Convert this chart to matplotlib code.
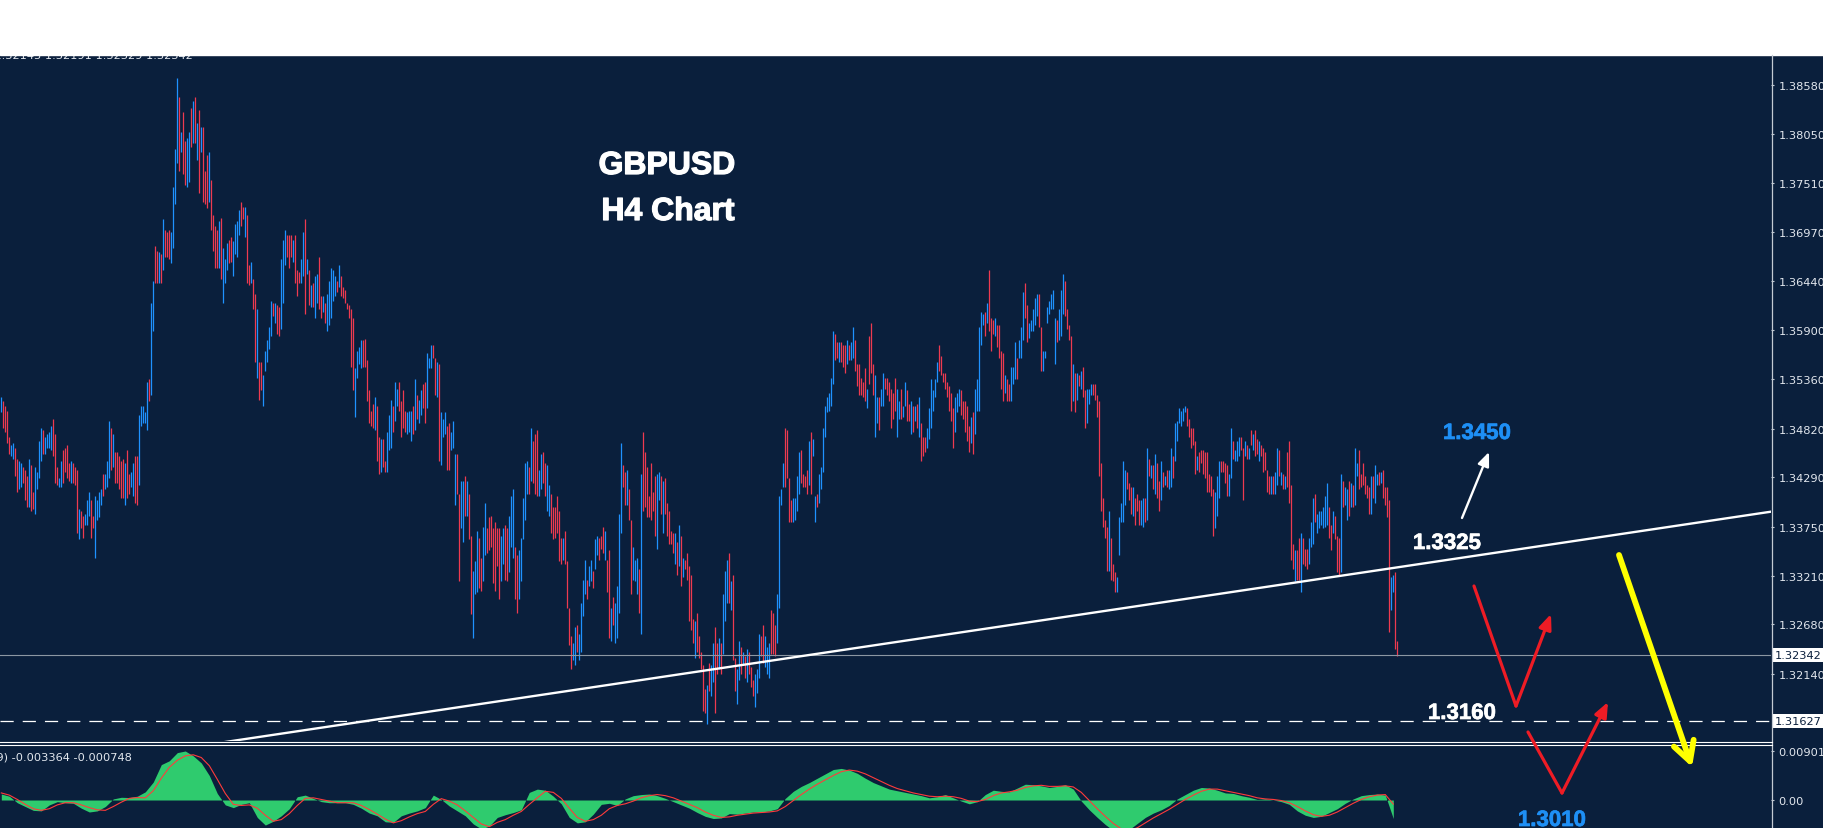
import numpy as np
import matplotlib
matplotlib.use("Agg")
import matplotlib.pyplot as plt
import matplotlib.transforms as mtransforms
import matplotlib.patheffects as pe
from matplotlib.patches import Rectangle

# GBPUSD H4 bars: high / low in pips above 1.30000, direction 1 = up bar (blue), 0 = down bar (red)
bar_high = [
    517,512,507,502,473,464,466,461,449,447,445,440,437,430,449,442,413,440,435,469,
    483,481,473,476,478,485,493,476,440,428,447,459,461,464,445,447,445,440,437,394,
    392,387,389,404,413,404,387,409,404,413,416,433,433,447,490,483,476,457,457,452,
    447,449,445,459,433,435,445,452,452,497,507,507,500,533,536,620,644,682,677,675,
    673,711,699,697,699,697,747,788,866,845,807,829,797,800,807,833,841,845,817,831,
    812,812,764,781,785,754,716,704,699,709,713,680,668,685,689,692,687,706,709,721,
    730,725,725,716,661,665,646,629,613,555,555,541,567,579,593,622,620,620,617,615,
    668,689,699,694,694,694,689,694,656,653,668,697,711,668,656,639,641,649,651,670,
    627,627,620,629,644,658,656,649,644,661,649,637,634,620,617,613,603,548,567,572,
    579,579,580,557,524,502,509,517,507,473,471,471,447,478,497,514,507,533,526,533,
    512,524,502,500,502,502,507,536,519,514,524,531,533,565,560,574,574,560,555,553,
    500,493,500,485,488,478,490,454,454,411,425,425,430,425,411,365,327,337,370,363,
    341,375,401,373,385,387,373,380,373,373,365,373,377,373,387,409,416,353,344,349,
    363,406,445,447,440,483,469,476,481,437,454,457,445,442,421,411,397,397,409,392,
    363,363,370,337,286,255,248,265,267,257,291,317,339,317,332,339,327,361,365,363,
    365,375,370,339,349,286,298,291,310,389,466,442,435,437,416,382,353,339,341,329,
    433,478,457,440,409,445,413,430,433,435,430,425,428,401,392,370,368,368,358,377,
    365,341,339,346,332,322,274,272,281,255,238,224,197,202,226,224,248,265,248,253,
    248,301,327,339,346,315,322,231,219,250,243,238,233,241,238,221,207,214,219,257,
    255,267,255,243,248,284,281,267,301,409,416,445,483,481,428,404,406,406,430,457,
    459,433,430,437,469,478,471,409,411,433,440,483,507,517,521,538,589,586,577,577,
    577,574,574,579,574,577,593,579,553,553,538,533,548,526,584,598,553,541,517,517,
    526,543,538,538,533,526,521,538,526,512,526,507,533,524,509,512,507,507,509,517,
    488,473,473,483,505,536,524,536,555,574,562,543,543,533,529,521,505,517,521,526,
    524,512,512,507,485,495,500,526,536,593,610,608,610,620,656,603,601,603,596,596,
    567,565,541,536,531,550,550,577,560,579,593,632,641,617,598,601,613,625,629,629,
    593,567,567,615,622,629,634,603,601,613,634,651,644,613,596,584,553,543,543,541,
    545,550,524,526,526,531,531,531,519,512,445,406,382,375,392,363,334,325,320,385,
    401,447,437,435,423,418,418,406,411,404,404,406,406,461,449,442,442,454,445,425,
    447,435,430,437,437,461,452,488,490,505,502,505,507,505,493,483,483,469,452,457,
    459,459,457,457,433,430,416,413,430,447,447,447,445,442,433,483,469,459,469,473,
    473,461,469,464,461,481,476,481,471,469,464,461,457,437,430,430,430,435,461,459,
    435,433,430,457,469,421,356,349,349,363,368,363,351,351,363,380,406,411,389,392,
    392,397,409,423,397,377,392,387,365,363,433,425,418,416,425,423,421,461,445,459,
    433,445,430,421,418,430,430,442,433,435,435,437,418,418,404,320,322,325,250,
]
bar_low = [
    500,483,478,466,454,452,449,430,413,416,418,423,404,397,397,392,394,389,416,428,
    447,454,454,461,461,459,452,423,421,418,418,423,435,428,425,423,423,421,368,361,
    373,363,377,377,387,363,373,341,382,385,399,409,416,418,428,437,440,423,423,416,
    406,406,399,406,411,418,409,401,399,421,485,488,488,481,512,519,589,641,641,641,
    641,656,670,670,668,663,680,728,773,764,785,761,749,747,752,790,795,795,776,740,
    785,730,728,723,730,699,677,658,658,658,646,620,641,656,663,665,649,673,670,694,
    704,711,692,641,639,641,613,555,538,514,524,507,545,555,569,584,605,598,586,584,
    591,620,661,670,658,670,665,641,627,641,641,649,608,651,617,615,615,603,620,613,
    603,610,598,589,596,603,622,627,632,637,627,625,620,613,603,550,524,495,538,553,
    548,550,550,512,488,485,483,481,447,433,435,440,435,435,459,461,478,490,507,502,
    473,483,478,476,478,469,476,481,493,488,497,505,488,505,548,548,560,519,517,447,
    442,473,476,437,437,459,461,399,411,315,373,358,387,387,361,279,253,301,303,308,
    305,315,344,346,349,353,313,305,332,296,315,334,317,315,325,353,341,296,281,296,
    315,361,382,411,411,425,423,411,409,409,416,423,409,392,387,368,361,363,368,337,
    334,339,334,286,245,219,229,224,238,229,238,277,301,296,310,315,308,329,344,339,
    351,346,339,303,253,250,267,248,253,281,368,418,399,399,382,301,317,315,301,281,
    257,392,397,385,385,382,392,365,351,404,389,368,389,365,356,356,346,334,322,332,
    310,320,329,317,272,262,248,231,238,231,219,173,171,159,195,190,205,171,214,219,
    214,236,272,291,291,284,229,195,181,207,214,224,209,205,214,200,190,178,193,209,
    233,226,221,214,209,236,236,233,248,286,399,418,418,428,380,380,380,382,392,411,
    423,418,418,411,421,411,452,380,397,401,416,435,473,500,502,507,531,557,560,555,
    555,550,543,553,557,557,560,545,529,519,519,517,512,505,531,543,519,473,488,481,
    507,507,526,519,512,483,493,502,473,493,493,495,507,490,490,476,478,490,483,473,
    447,452,457,461,471,483,502,517,533,545,541,533,526,517,502,490,461,478,500,507,
    497,493,478,469,457,466,454,476,502,502,574,596,584,598,589,567,586,584,572,560,
    526,512,521,512,512,512,531,536,536,560,560,579,603,577,581,589,589,596,605,593,
    545,545,560,598,608,613,613,553,577,579,584,608,605,591,579,502,512,500,514,529,
    526,517,483,488,509,519,519,514,495,430,392,375,363,327,327,317,315,303,303,344,
    380,380,399,416,404,389,387,377,392,377,377,375,380,382,430,428,416,411,406,392,
    404,418,421,418,416,418,428,447,469,488,485,490,500,485,473,461,464,433,437,435,
    445,433,428,413,413,409,365,373,387,406,435,435,423,409,409,428,449,447,447,452,
    459,404,452,449,449,464,459,452,454,447,452,435,437,413,411,411,411,411,421,430,
    421,416,416,418,401,339,329,315,317,317,303,334,332,329,334,353,356,380,368,373,
    377,373,375,377,363,349,368,361,325,322,325,397,399,382,387,397,397,399,430,416,
    418,421,411,406,389,389,406,401,421,421,423,406,399,385,260,284,303,241,233,
]
bar_up = (
    "10000110011000100111" "10111100011000010001" "00111001111011101000"
    "00100110011111011001" "01000111101001101010" "10001000010111001111"
    "00100100100111110100" "11100010001101010110" "01011111010000000111"
    "10000001001001110110" "00011101011001110010" "11100111001101001110"
    "01100000001100111001" "11110100011001100000" "01000011011110110110"
    "00100101111001001110" "10000000110100000101" "01000001000001011001"
    "01110100110101000111" "00111000111100001111" "00001011011111111001"
    "00010110000001000110" "11000000110110010101" "00011111100000000111"
    "00000101111101000100" "00100111011100111110" "01111111011100001010"
    "10011100000000100011" "11100010001101010100" "10101101111110000010"
    "00000001110000110111" "00101010010000010110" "10100001001000111011"
    "11110010001011010110" "0000010110100001100"
)

price_ticks = [1.38580, 1.38050, 1.37510, 1.36970, 1.36440, 1.35900, 1.35360,
               1.34820, 1.34290, 1.33750, 1.33210, 1.32680, 1.32140]
bid_price = 1.32342
level_price = 1.31627
trend_bars = [100, 885]
trend_prices = [1.31355, 1.33914]

# MACD(12,26,9), one reading every 4 bars, units of 0.001
macd_step = 4
macd_main = [
    1.1,0.7,-0.5,-1.2,-1.9,-2.0,-0.9,-0.3,-0.5,-0.6,
    -1.5,-2.2,-2.0,-1.2,0.2,0.5,0.45,0.7,1.5,3.3,
    6.5,7.2,8.7,9.0,8.1,6.8,4.5,1.2,-0.9,-1.4,
    -0.8,-0.5,-3.2,-4.6,-3.9,-2.9,-1.6,0.6,0.9,0.3,
    -0.3,-0.5,-0.5,-0.5,-0.8,-1.5,-2.4,-2.9,-4.0,-4.1,
    -2.9,-2.4,-2.0,-1.4,0.9,0.1,-1.1,-2.0,-2.9,-4.4,
    -5.3,-4.8,-3.2,-2.7,-2.3,-1.8,1.4,2.0,1.8,0.7,
    -0.7,-3.2,-4.2,-4.0,-2.6,
    -0.8,-0.6,-1.0,0.2,0.8,1.0,1.1,0.8,0.3,-0.3,
    -0.9,-1.5,-2.3,-3.0,-3.4,-3.3,-2.5,-2.6,-2.4,-2.2,
    -2.2,-2.0,-1.6,0.3,1.6,2.5,3.2,4.0,4.8,5.6,
    5.8,5.5,4.9,4.0,3.2,2.6,2.0,1.7,1.4,1.1,
    0.8,0.4,0.6,1.0,0.4,-0.2,-0.7,-0.3,1.0,1.8,
    1.6,1.5,2.2,2.9,2.8,2.6,2.3,2.5,2.8,2.0,
    -0.2,-1.8,-3.2,-4.5,-5.6,-6.2,-5.4,-4.3,-3.2,-2.4,
    -1.8,-1.0,0.2,1.0,1.8,2.3,2.2,1.8,1.3,1.2,
    0.8,0.5,0.1,0.2,0.0,-0.3,-0.8,-2.0,-2.8,-3.2,
    -3.0,-2.3,-1.6,-0.6,0.2,0.8,1.0,1.1,0.9,-3.4,
]
macd_signal = [
    1.3,0.9,0.1,-0.8,-1.6,-1.9,-1.6,-0.9,-0.5,-0.5,
    -0.9,-1.4,-1.8,-1.9,-1.2,-0.4,0.3,0.45,0.4,1.7,
    4.0,6.0,7.3,8.1,8.3,7.8,6.3,3.8,1.2,-0.8,
    -1.0,-0.9,-1.5,-2.8,-3.9,-3.6,-2.5,-1.0,0.3,0.4,
    0.1,-0.2,-0.5,-0.5,-0.5,-1.0,-1.75,-2.6,-3.5,-4.2,
    -3.8,-3.1,-2.5,-2.1,-0.8,0.25,-0.2,-0.9,-2.0,-3.2,
    -4.4,-4.9,-4.1,-3.6,-2.8,-2.1,-0.8,0.4,1.6,1.4,
    0.3,-1.5,-3.2,-3.9,-3.6,
    -2.8,-1.6,-1.0,-0.7,-0.2,0.4,0.8,1.0,0.8,0.4,
    -0.2,-0.8,-1.4,-2.2,-2.8,-3.2,-3.1,-2.8,-2.6,-2.4,
    -2.3,-2.2,-2.0,-1.2,-0.1,1.0,2.0,2.9,3.7,4.5,
    5.2,5.5,5.3,4.8,4.1,3.4,2.7,2.1,1.7,1.3,
    1.0,0.7,0.6,0.7,0.6,0.3,-0.2,-0.3,0.1,0.8,
    1.3,1.5,1.8,2.3,2.6,2.7,2.5,2.5,2.6,2.4,
    1.4,-0.1,-1.6,-3.0,-4.3,-5.3,-5.6,-5.1,-4.2,-3.3,
    -2.5,-1.7,-0.8,0.1,0.9,1.6,2.0,2.0,1.7,1.4,
    1.1,0.8,0.4,0.2,0.1,-0.1,-0.5,-1.2,-2.0,-2.7,
    -3.0,-2.8,-2.2,-1.4,-0.6,0.1,0.6,0.9,1.0,-0.75,
]
macd_ticks = [0.009011, 0.0]
macd_tick_labels = ["0.009011", "0.00"]

header_text = "GBPUSD,H4  1.32145 1.32191 1.32329 1.32342"
macd_text = "MACD(12,26,9) -0.003364 -0.000748"

assert len(bar_high) == len(bar_low) == len(bar_up)
assert len(macd_main) == len(macd_signal)

BG = "#0a1f3c"
BLUE = "#1f92ff"
RED = "#ee3a50"
GREEN = "#2fcb6e"
AXIS = "#c3cad3"
LABEL = "#e2e7ee"
plt.rcParams["lines.scale_dashes"] = False

W, H = 1823, 829
fig = plt.figure(figsize=(W / 100, H / 100), dpi=100, facecolor=BG)

# price panel: pixels x 0..1771, y 55..742
ax = fig.add_axes([0, (H - 742) / H, 1771 / W, (742 - 55) / H])
ax.set_facecolor(BG)
n = len(bar_high)
x = np.arange(n)
hi = 1.3 + np.array(bar_high) / 1e4
lo = 1.3 + np.array(bar_low) / 1e4
cols = [BLUE if c == "1" else RED for c in bar_up]
ax.vlines(x, lo, hi, colors=cols, linewidth=0.9)
ax.axhline(bid_price, color="#8c97a3", lw=0.8)
ax.axhline(level_price, color="white", lw=0.9, dashes=(9.5, 6.5))
ax.plot(trend_bars, trend_prices, color="white", lw=1.7, solid_capstyle="butt")
ax.set_xlim(-0.65, 884.85)
ax.set_ylim(1.31405, 1.38920)
for s in ax.spines.values():
    s.set_visible(False)
ax.set_xticks([])
ax.yaxis.tick_right()
ax.set_yticks(price_ticks)
ax.set_yticklabels([f"{v:.5f}" for v in price_ticks])
ax.tick_params(axis="y", length=2.5, width=0.8, color=AXIS, labelcolor=LABEL,
               labelsize=8.2, pad=3)

tr = mtransforms.blended_transform_factory(ax.transAxes, ax.transData)
for p in (bid_price, level_price):
    ax.text(1 + 4 / 1771, p, f"{p:.5f}", transform=tr, ha="left", va="center",
            fontsize=8.2, color=BG, clip_on=False,
            bbox=dict(boxstyle="square,pad=0.18", fc="white", ec="none"))

# MACD panel: pixels y 746..829 (cut at the bottom)
ax2 = fig.add_axes([0, 0, 1771 / W, (H - 746) / H])
ax2.set_facecolor(BG)
mx = np.arange(len(macd_main)) * macd_step
ax2.fill_between(mx, 0, np.array(macd_main) * 1e-3, color=GREEN, lw=0)
ax2.plot(mx, np.array(macd_signal) * 1e-3, color="#ff3b3b", lw=0.8)
ax2.set_xlim(-0.65, 884.85)
ax2.set_ylim(-0.00514, 0.01010)
for s in ax2.spines.values():
    s.set_visible(False)
ax2.set_xticks([])
ax2.yaxis.tick_right()
ax2.set_yticks(macd_ticks)
ax2.set_yticklabels(macd_tick_labels)
ax2.tick_params(axis="y", length=2.5, width=0.8, color=AXIS, labelcolor=LABEL,
                labelsize=8.2, pad=3)
ax2.text(132 / 1771, 0.86, macd_text, transform=ax2.transAxes, ha="right",
         va="center", fontsize=8.2, color=LABEL)

# overlay in figure pixels (y down) for frame lines and hand drawn marks
ov = fig.add_axes([0, 0, 1, 1])
ov.set_xlim(0, W)
ov.set_ylim(H, 0)
ov.axis("off")
ov.patch.set_alpha(0)
ov.set_zorder(10)

ov.text(193, 59, header_text, ha="right", va="baseline", fontsize=8.2,
        color=LABEL, zorder=2)
ov.add_patch(Rectangle((0, 0), W, 55.5, color="white", zorder=3))
ov.plot([1771.5, 1771.5], [55.5, H], color=AXIS, lw=0.9, zorder=4)
ov.plot([0, 1771.5], [742.5, 742.5], color="white", lw=0.8, zorder=4)
ov.plot([0, 1771.5], [745.5, 745.5], color="white", lw=0.8, zorder=4)

heavy = [pe.withStroke(linewidth=0.9, foreground="white")]
heavy_blue = [pe.withStroke(linewidth=0.5, foreground="#1e8ff5")]
light = [pe.withStroke(linewidth=0.5, foreground="white")]
bold = dict(family="Liberation Sans", fontweight="bold", ha="center",
            va="baseline", zorder=6)
ov.text(667, 175, "GBPUSD", fontsize=23, color="white", path_effects=heavy, **bold)
ov.text(668, 221, "H4 Chart", fontsize=23, color="white", path_effects=heavy, **bold)
ov.text(1477, 440, "1.3450", fontsize=16, color="#1e8ff5", path_effects=heavy_blue, **bold)
ov.text(1447, 550, "1.3325", fontsize=16, color="white", path_effects=light, **bold)
ov.text(1462, 720, "1.3160", fontsize=16, color="white", path_effects=light, **bold)
ov.text(1552, 827, "1.3010", fontsize=16, color="#1e8ff5", path_effects=heavy_blue, **bold)


def arrow(p0, p1, color, lw, style, scale):
    ov.annotate("", xy=p1, xytext=p0, zorder=6,
                arrowprops=dict(arrowstyle=style, color=color, lw=lw,
                                shrinkA=0, shrinkB=0, mutation_scale=scale))


arrow((1462, 519), (1489, 453), "white", 1.7,
      "-|>,head_length=0.6,head_width=0.25", 14)
red_a = "#ee1c25"
ov.plot([1474, 1516], [587, 707], color=red_a, lw=2.3, zorder=6,
        solid_capstyle="round")
arrow((1516, 707), (1551, 615), red_a, 2.3, "-|>,head_length=0.6,head_width=0.25", 15)
ov.plot([1528, 1562], [733, 794], color=red_a, lw=2.3, zorder=6,
        solid_capstyle="round")
arrow((1562, 794), (1608, 703), red_a, 2.3, "-|>,head_length=0.6,head_width=0.25", 15)
arrow((1619, 556), (1692, 768), "#ffff00", 4.2, "->,head_length=0.55,head_width=0.3", 25)

fig.savefig("out.png", dpi=100, facecolor=BG)
